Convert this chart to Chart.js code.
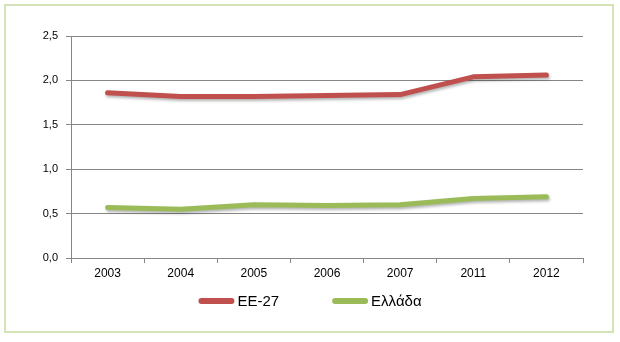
<!DOCTYPE html>
<html>
<head>
<meta charset="utf-8">
<script src="https://cdn.jsdelivr.net/npm/chart.js@4.4.1/dist/chart.umd.min.js"></script>
<style>
  html, body { margin: 0; padding: 0; background: #fff; }
  #wrap { position: relative; width: 620px; height: 342px; }
  #frame {
    position: absolute; left: 4px; top: 4px; width: 610px; height: 329px;
    border: 2px solid #d4e3b5; box-sizing: border-box; pointer-events: none;
  }
</style>
</head>
<body>
<div id="wrap">
  <canvas id="chart" width="620" height="342"></canvas>
  <div id="frame"></div>
</div>
<script>
const years = ['2003', '2004', '2005', '2006', '2007', '2011', '2012'];
const eu27 = [1.86, 1.82, 1.82, 1.83, 1.84, 2.04, 2.06];
const greece = [0.57, 0.55, 0.60, 0.59, 0.60, 0.67, 0.69];
const yTicks = [0, 0.5, 1.0, 1.5, 2.0, 2.5];

const fontFamily = '"Liberation Sans", Arial, sans-serif';

// soft drop shadow under the lines
const shadowPlugin = {
    id: 'lineShadow',
    beforeDatasetsDraw(chart) {
        const ctx = chart.ctx;
        ctx.save();
        ctx.shadowColor = 'rgba(0, 0, 0, 0.3)';
        ctx.shadowBlur = 3;
        ctx.shadowOffsetX = 1;
        ctx.shadowOffsetY = 2;
    },
    afterDatasetsDraw(chart) {
        chart.ctx.restore();
    }
};

// legend drawn from the datasets, centred under the chart
const legendPlugin = {
    id: 'bottomLegend',
    afterDraw(chart) {
        const ctx = chart.ctx;
        const sets = chart.data.datasets;
        const boxW = 36, gapText = 3, gapItem = 53, cy = 301;
        ctx.save();
        ctx.font = '15px ' + fontFamily;
        const widths = sets.map(ds => boxW + gapText + ctx.measureText(ds.label).width);
        const total = widths.reduce((a, b) => a + b, 0) + gapItem * (sets.length - 1);
        let x = 310 - total / 2;
        sets.forEach((ds, i) => {
            ctx.strokeStyle = ds.borderColor;
            ctx.lineWidth = 6;
            ctx.lineCap = 'round';
            ctx.beginPath();
            ctx.moveTo(x + 3, cy);
            ctx.lineTo(x + boxW - 3, cy);
            ctx.stroke();
            ctx.fillStyle = '#000';
            ctx.textBaseline = 'middle';
            ctx.textAlign = 'left';
            ctx.fillText(ds.label, x + boxW + gapText, cy + 1);
            x += widths[i] + gapItem;
        });
        ctx.restore();
    }
};

const ctx = document.getElementById('chart').getContext('2d');

new Chart(ctx, {
    type: 'line',
    data: {
        labels: years,
        datasets: [
            {
                label: 'ΕΕ-27',
                data: eu27,
                borderColor: '#c0504d',
                backgroundColor: '#c0504d',
                borderWidth: 5,
                pointRadius: 0,
                tension: 0,
                borderCapStyle: 'round',
                borderJoinStyle: 'round'
            },
            {
                label: 'Ελλάδα',
                data: greece,
                borderColor: '#9bbb59',
                backgroundColor: '#9bbb59',
                borderWidth: 5,
                pointRadius: 0,
                tension: 0,
                borderCapStyle: 'round',
                borderJoinStyle: 'round'
            }
        ]
    },
    options: {
        responsive: false,
        animation: false,
        layout: { padding: { top: 36, left: 0, right: 0, bottom: 54 } },
        plugins: {
            legend: { display: false },
            tooltip: { enabled: false }
        },
        scales: {
            x: {
                offset: true,
                grid: { offset: true, drawOnChartArea: false, tickLength: 5, color: '#868686' },
                border: { color: '#868686' },
                ticks: { color: '#000', padding: 3, font: { family: fontFamily, size: 12 } },
                afterFit: s => { s.height = 30; }
            },
            y: {
                min: 0,
                max: 2.5,
                afterBuildTicks: s => { s.ticks = yTicks.map(v => ({ value: v })); },
                grid: { color: '#868686', tickLength: 5 },
                border: { color: '#868686' },
                ticks: {
                    color: '#000',
                    padding: 8,
                    font: { family: fontFamily, size: 11 },
                    callback: v => v.toFixed(1).replace('.', ',')
                },
                afterFit: s => { s.width = 71; }
            },
            spacer: {
                type: 'linear',
                position: 'right',
                display: true,
                grid: { display: false },
                border: { display: false },
                ticks: { display: false },
                afterFit: s => { s.width = 37; }
            }
        }
    },
    plugins: [shadowPlugin, legendPlugin]
});
</script>
</body>
</html>
